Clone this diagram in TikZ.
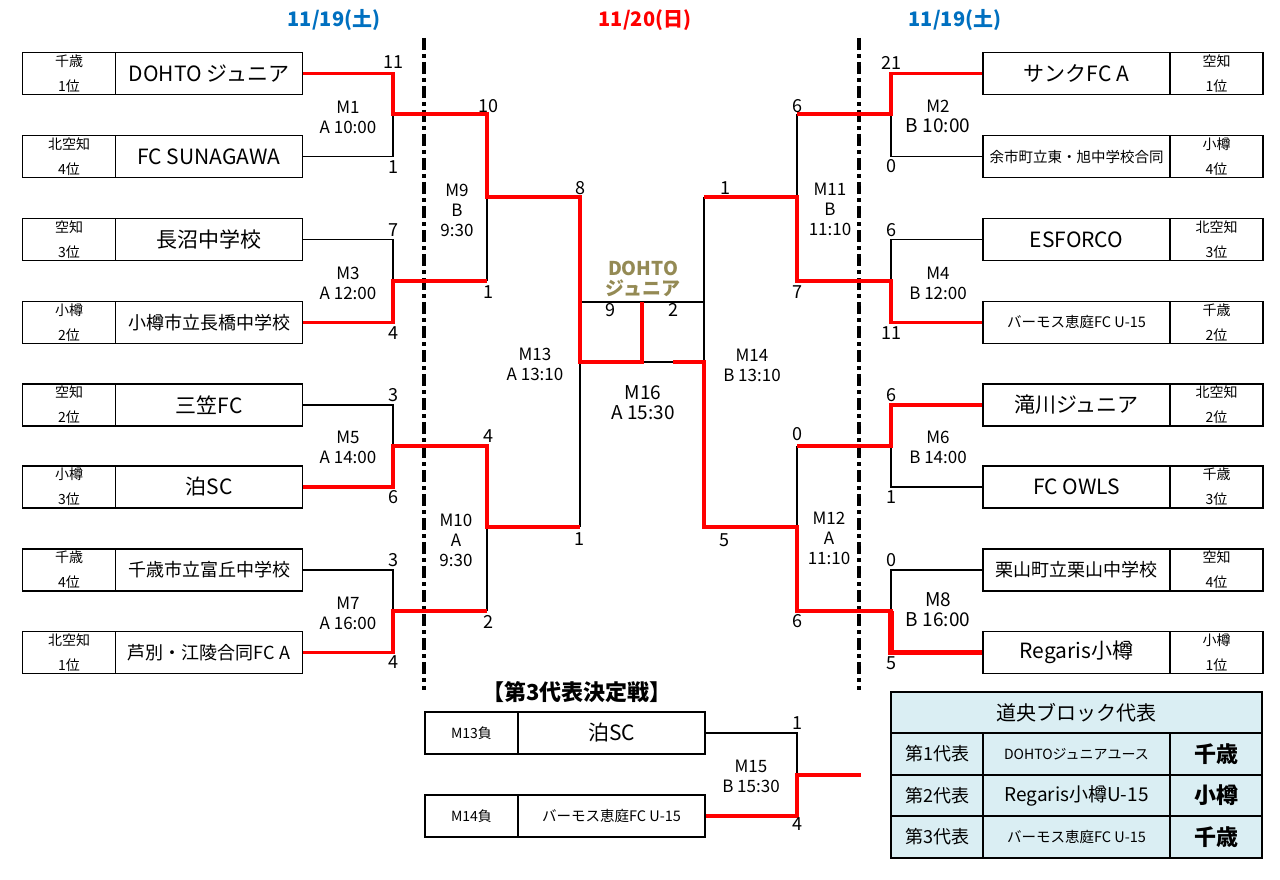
\documentclass[tikz,border=0pt]{standalone}
\usepackage{fontspec}
\setmainfont{Noto Sans CJK JP}
\definecolor{dateBlue}{RGB}{0,112,192}
\definecolor{champOlive}{RGB}{148,138,84}
\definecolor{tableBlue}{RGB}{218,238,243}

\begin{document}
\begin{tikzpicture}[x = 1pt, y = -1pt, font = \fontsize{16}{19}\selectfont]
	\tikzstyle{seedStyle}=[draw, line width = 1.8pt, minimum width = 93pt, minimum height = 42pt, inner sep = 0pt, align = center, font = \fontsize{14}{25}\selectfont]
	\tikzstyle{teamStyle}=[draw, line width = 1.8pt, minimum width = 187pt, minimum height = 42pt, inner sep = 0pt, font = \fontsize{21}{24}\selectfont]
	\tikzstyle{teamMid}=[font = \fontsize{18}{22}\selectfont]
	\tikzstyle{teamSmall}=[font = \fontsize{14.5}{18}\selectfont]
	\tikzstyle{scoreStyle}=[inner sep = 0pt, font = \fontsize{18}{20}\selectfont]
	\tikzstyle{matchStyle}=[inner sep = 0pt, align = center, font = \fontsize{17}{20}\selectfont]
	\tikzstyle{dateStyle}=[inner sep = 0pt, font = \bfseries\fontsize{20}{24}\selectfont]
	\tikzstyle{loseLine}=[line width = 1.6pt]
	\tikzstyle{winLine}=[red, line width = 3.8pt]
	\tikzstyle{dividerStyle}=[line width = 3.5pt, dash pattern = on 12pt off 4pt on 4pt off 4pt]
	\tikzstyle{cellStyle}=[draw, line width = 1.8pt, fill = tableBlue, minimum height = 41.5pt, inner sep = 0pt]
	\useasboundingbox (0,0) rectangle (1280,880);
	\node[dateStyle, text = dateBlue] (day1L) at (334,20) {11/19(土)};
	\node[dateStyle, text = red] (day2) at (645,20) {11/20(日)};
	\node[dateStyle, text = dateBlue] (day1R) at (955,20) {11/19(土)};
	\draw[dividerStyle] (424,38) -- (424,690);
	\draw[dividerStyle] (859,38) -- (859,690);
	\node[seedStyle] (sL1) at (69,73.5) {千歳\\1位};
	\node[teamStyle] (L1) at (209,73.5) {DOHTO ジュニア};
	\node[seedStyle] (sL2) at (69,156.5) {北空知\\4位};
	\node[teamStyle] (L2) at (209,156.5) {FC SUNAGAWA};
	\node[seedStyle] (sL3) at (69,239.5) {空知\\3位};
	\node[teamStyle] (L3) at (209,239.5) {長沼中学校};
	\node[seedStyle] (sL4) at (69,322.5) {小樽\\2位};
	\node[teamStyle, teamMid] (L4) at (209,322.5) {小樽市立長橋中学校};
	\node[seedStyle] (sL5) at (69,405) {空知\\2位};
	\node[teamStyle] (L5) at (209,405) {三笠FC};
	\node[seedStyle] (sL6) at (69,487) {小樽\\3位};
	\node[teamStyle] (L6) at (209,487) {泊SC};
	\node[seedStyle] (sL7) at (69,570) {千歳\\4位};
	\node[teamStyle, teamMid] (L7) at (209,570) {千歳市立富丘中学校};
	\node[seedStyle] (sL8) at (69,652.5) {北空知\\1位};
	\node[teamStyle, teamMid] (L8) at (209,652.5) {芦別・江陵合同FC A};
	\node[teamStyle] (R1) at (1076.5,73.5) {サンクFC A};
	\node[seedStyle] (sR1) at (1216.5,73.5) {空知\\1位};
	\node[teamStyle, teamSmall] (R2) at (1076.5,156.5) {余市町立東・旭中学校合同};
	\node[seedStyle] (sR2) at (1216.5,156.5) {小樽\\4位};
	\node[teamStyle] (R3) at (1076.5,239.5) {ESFORCO};
	\node[seedStyle] (sR3) at (1216.5,239.5) {北空知\\3位};
	\node[teamStyle, teamSmall] (R4) at (1076.5,322.5) {バーモス恵庭FC U-15};
	\node[seedStyle] (sR4) at (1216.5,322.5) {千歳\\2位};
	\node[teamStyle] (R5) at (1076.5,405) {滝川ジュニア};
	\node[seedStyle] (sR5) at (1216.5,405) {北空知\\2位};
	\node[teamStyle] (R6) at (1076.5,487) {FC OWLS};
	\node[seedStyle] (sR6) at (1216.5,487) {千歳\\3位};
	\node[teamStyle, teamMid] (R7) at (1076.5,570) {栗山町立栗山中学校};
	\node[seedStyle] (sR7) at (1216.5,570) {空知\\4位};
	\node[teamStyle] (R8) at (1076.5,652.5) {Regaris小樽};
	\node[seedStyle] (sR8) at (1216.5,652.5) {小樽\\1位};
	\coordinate (m1) at (393,114);
	\coordinate (m3) at (393,281);
	\coordinate (m5) at (393,446);
	\coordinate (m7) at (393,611);
	\coordinate (m9) at (487,197);
	\coordinate (m9b) at (487,281);
	\coordinate (m10) at (487,527);
	\coordinate (m10b) at (487,611);
	\coordinate (m13) at (580,362);
	\coordinate (m13b) at (580,527);
	\coordinate (m16) at (642,362);
	\coordinate (m16r) at (673,362);
	\coordinate (champ) at (642,302);
	\coordinate (m16tl) at (580,302);
	\coordinate (m16tr) at (704,302);
	\coordinate (m14) at (704,362);
	\coordinate (m14a) at (704,197);
	\coordinate (m11) at (797,197);
	\coordinate (m11a) at (797,114);
	\coordinate (m12) at (797,527);
	\coordinate (m12a) at (797,446);
	\coordinate (m2) at (891,114);
	\coordinate (m4) at (891,281);
	\coordinate (m6) at (891,446);
	\coordinate (m8) at (891,611);
	\node[seedStyle, font = \fontsize{14}{16}\selectfont] (tS1) at (471.5,733) {M13負};
	\node[teamStyle] (T1) at (611.5,733) {泊SC};
	\node[seedStyle, font = \fontsize{14}{16}\selectfont] (tS2) at (471.5,816) {M14負};
	\node[teamStyle, teamSmall] (T2) at (611.5,816) {バーモス恵庭FC U-15};
	\coordinate (m15) at (797,775);
	\coordinate (m15out) at (861,775);
	\draw[loseLine] (L2.east) -| (m1);
	\draw[loseLine] (L3.east) -| (m3);
	\draw[loseLine] (L5.east) -| (m5);
	\draw[loseLine] (L7.east) -| (m7);
	\draw[loseLine] (m9b) -- (m9);
	\draw[loseLine] (m10b) -- (m10);
	\draw[loseLine] (m13b) -- (m13);
	\draw[loseLine] (m16tl) -- (m16tr);
	\draw[loseLine] (m16) -- (m16r);
	\draw[loseLine] (m14a) -- (m14);
	\draw[loseLine] (m11a) -- (m11);
	\draw[loseLine] (m12a) -- (m12);
	\draw[loseLine] (R2.west) -| (m2);
	\draw[loseLine] (R3.west) -| (m4);
	\draw[loseLine] (R6.west) -| (m6);
	\draw[loseLine] (R7.west) -| (m8);
	\draw[loseLine] (T1.east) -| (m15);
	\draw[winLine] (L1.east) -| (m1) -| (m9) -| (m13) -| (champ);
	\draw[winLine] (L4.east) -| (m3) -- (m9b);
	\draw[winLine] (L6.east) -| (m5) -| (m10) -- (m13b);
	\draw[winLine] (L8.east) -| (m7) -- (m10b);
	\draw[winLine] (R1.west) -| (m2) -- (m11a);
	\draw[winLine] (R4.west) -| (m4) -| (m11) -- (m14a);
	\draw[winLine] (R5.west) -| (m6) -- (m12a);
	\draw[winLine] (R8.west) -| (m8) -| (m12) -| (m14) -- (m16r);
	\draw[winLine, line width = 5.5pt] (R8.west) -| (m8);
	\draw[winLine] (T2.east) -| (m15) -- (m15out);
	\node[scoreStyle] (sc1a) at (393,62) {11};
	\node[scoreStyle] (sc1b) at (393,167) {1};
	\node[scoreStyle] (sc3a) at (393,230) {7};
	\node[scoreStyle] (sc3b) at (393,333) {4};
	\node[scoreStyle] (sc5a) at (393,395) {3};
	\node[scoreStyle] (sc5b) at (393,497) {6};
	\node[scoreStyle] (sc7a) at (393,560) {3};
	\node[scoreStyle] (sc7b) at (393,662) {4};
	\node[scoreStyle] (sc9a) at (488,106) {10};
	\node[scoreStyle] (sc9b) at (488,292) {1};
	\node[scoreStyle] (sc10a) at (488,436) {4};
	\node[scoreStyle] (sc10b) at (488,622) {2};
	\node[scoreStyle] (sc13a) at (580,188) {8};
	\node[scoreStyle] (sc13b) at (579,539) {1};
	\node[scoreStyle] (sc14a) at (725,188) {1};
	\node[scoreStyle] (sc14b) at (724,540) {5};
	\node[scoreStyle] (sc16a) at (610,310) {9};
	\node[scoreStyle] (sc16b) at (673,310) {2};
	\node[scoreStyle] (sc11a) at (797,106) {6};
	\node[scoreStyle] (sc11b) at (797,292) {7};
	\node[scoreStyle] (sc12a) at (797,434) {0};
	\node[scoreStyle] (sc12b) at (797,621) {6};
	\node[scoreStyle] (sc2a) at (891,63) {21};
	\node[scoreStyle] (sc2b) at (891,166) {0};
	\node[scoreStyle] (sc4a) at (891,230) {6};
	\node[scoreStyle] (sc4b) at (891,333) {11};
	\node[scoreStyle] (sc6a) at (891,395) {6};
	\node[scoreStyle] (sc6b) at (891,497) {1};
	\node[scoreStyle] (sc8a) at (891,560) {0};
	\node[scoreStyle] (sc8b) at (891,663) {5};
	\node[scoreStyle] (sc15a) at (797,723) {1};
	\node[scoreStyle] (sc15b) at (797,824) {4};
	\node[matchStyle] (M1) at (348,117) {M1\\A 10:00};
	\node[matchStyle] (M3) at (348,283) {M3\\A 12:00};
	\node[matchStyle] (M5) at (348,447) {M5\\A 14:00};
	\node[matchStyle] (M7) at (348,613) {M7\\A 16:00};
	\node[matchStyle] (M2) at (938,116) {M2\\{\fontsize{19}{20}\selectfont B 10:00}};
	\node[matchStyle] (M4) at (938,283) {M4\\B 12:00};
	\node[matchStyle] (M6) at (938,447) {M6\\B 14:00};
	\node[matchStyle, font = \fontsize{19}{20}\selectfont] (M8) at (938,610) {M8\\B 16:00};
	\node[matchStyle] (M9) at (457,210) {M9\\B\\9:30};
	\node[matchStyle] (M10) at (456,540) {M10\\A\\9:30};
	\node[matchStyle] (M11) at (830,209) {M11\\B\\11:10};
	\node[matchStyle] (M12) at (829,538) {M12\\A\\11:10};
	\node[matchStyle] (M13) at (535,364) {M13\\A 13:10};
	\node[matchStyle] (M14) at (752,365) {M14\\B 13:10};
	\node[matchStyle, font = \fontsize{19}{20}\selectfont] (M16) at (643,403) {M16\\A 15:30};
	\node[matchStyle] (M15) at (751,776) {M15\\B 15:30};
	\node[inner sep = 0pt, align = center, text = champOlive, font = \bfseries\fontsize{19}{20}\selectfont] (winner) at (643,279) {DOHTO\\ジュニア};
	\node[inner sep = 0pt, font = \bfseries\fontsize{22}{24}\selectfont] (third) at (577,692) {【第3代表決定戦】};
	\node[cellStyle, minimum width = 371pt, font = \fontsize{20}{24}\selectfont] (hdr) at (1076.5,712.5) {道央ブロック代表};
	\node[cellStyle, minimum width = 92pt, font = \fontsize{18}{20}\selectfont] (r1a) at (937,754) {第1代表};
	\node[cellStyle, minimum width = 187pt, font = \fontsize{14}{16}\selectfont] (r1b) at (1076.5,754) {DOHTOジュニアユース};
	\node[cellStyle, minimum width = 92pt, font = \bfseries\fontsize{22}{24}\selectfont] (r1c) at (1216,754) {千歳};
	\node[cellStyle, minimum width = 92pt, font = \fontsize{18}{20}\selectfont] (r2a) at (937,795.5) {第2代表};
	\node[cellStyle, minimum width = 187pt, font = \fontsize{19}{20}\selectfont] (r2b) at (1076.5,795.5) {Regaris小樽U-15};
	\node[cellStyle, minimum width = 92pt, font = \bfseries\fontsize{22}{24}\selectfont] (r2c) at (1216,795.5) {小樽};
	\node[cellStyle, minimum width = 92pt, font = \fontsize{18}{20}\selectfont] (r3a) at (937,837) {第3代表};
	\node[cellStyle, minimum width = 187pt, font = \fontsize{14.5}{16}\selectfont] (r3b) at (1076.5,837) {バーモス恵庭FC U-15};
	\node[cellStyle, minimum width = 92pt, font = \bfseries\fontsize{22}{24}\selectfont] (r3c) at (1216,837) {千歳};
\end{tikzpicture}
\end{document}
